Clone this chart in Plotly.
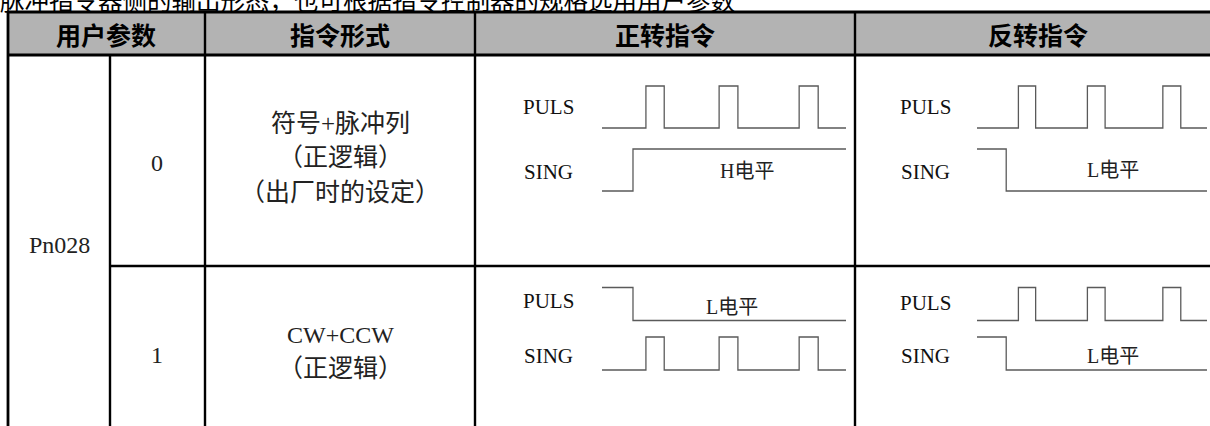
import plotly.graph_objects as go

# ---------------- data ----------------
intro_text = "脉冲指令器侧的输出形态，也可根据指令控制器的规格选用用户参数"
headers = ["用户参数", "指令形式", "正转指令", "反转指令"]
param_name = "Pn028"
param_values = ["0", "1"]
format_lines = [["符号+脉冲列", "（正逻辑）", "（出厂时的设定）"],
                ["CW+CCW", "（正逻辑）"]]
signal_names = ["PULS", "SING"]
level_labels = [["H电平", "L电平"], ["L电平", "L电平"]]

# waveform timing (time units, 0..100)
t_end = 100
pulse_rise = [18.0, 48.0, 80.8]
pulse_fall = [25.5, 55.7, 88.6]
level_switch = 12.7


def pulse_train():
    xs, ys = [0], [0]
    for r, f in zip(pulse_rise, pulse_fall):
        xs += [r, f]
        ys += [1, 0]
    xs.append(t_end)
    ys.append(0)
    return xs, ys


def step(before, after):
    return [0, level_switch, t_end], [before, after, after]


# (row, col) -> (PULS waveform, SING waveform)
waves = {
    (0, 0): (pulse_train(), step(0, 1)),
    (0, 1): (pulse_train(), step(1, 0)),
    (1, 0): (step(1, 0), pulse_train()),
    (1, 1): (pulse_train(), step(1, 0)),
}

# ---------------- layout helpers ----------------
W, H = 1210, 426


def px(x):
    return x / W


def py(y):
    return 1 - y / H


PULS_OFFSET = 1.5
XR = [-3, 101]
YR = [-0.3, 2.8]
cell_x0 = [602, 977]
cell_kx = [2.44, 2.30]
row_y0 = [191, 370]
row_ky = [42, 33]

fig = go.Figure()
WAVE_COLOR = "#5a5a5a"


def note(x, y, text, font, xref="paper", yref="paper", xanchor="center"):
    fig.add_annotation(x=x, y=y, xref=xref, yref=yref, text=text,
                       showarrow=False, xanchor=xanchor, yanchor="middle",
                       font=font)


axis_idx = 0
layout_axes = {}
label_pos = {(0, 0): (59.4, 0.48), (0, 1): (59.1, 0.5),
             (1, 0): (53.3, 1.9), (1, 1): (59.1, 0.42)}
for (r, c), (puls, sing) in waves.items():
    axis_idx += 1
    sfx = "" if axis_idx == 1 else str(axis_idx)
    xa, ya = "x" + sfx, "y" + sfx
    for (xs, ys), off in ((puls, PULS_OFFSET), (sing, 0)):
        fig.add_trace(go.Scatter(
            x=xs, y=[v + off for v in ys], mode="lines",
            line=dict(shape="hv", color=WAVE_COLOR, width=1.3),
            xaxis=xa, yaxis=ya, showlegend=False, hoverinfo="skip"))
    x0, kx = cell_x0[c], cell_kx[c]
    y0, ky = row_y0[r], row_ky[r]
    layout_axes["xaxis" + sfx] = dict(
        range=XR, visible=False, fixedrange=True,
        domain=[px(x0 + XR[0] * kx), px(x0 + XR[1] * kx)],
        anchor=ya)
    layout_axes["yaxis" + sfx] = dict(
        range=YR, visible=False, fixedrange=True,
        domain=[py(y0 - YR[0] * ky), py(y0 - YR[1] * ky)],
        anchor=xa)
    lx, ly = label_pos[(r, c)]
    note(lx, ly, level_labels[r][c],
         dict(family="Liberation Serif, Noto Sans CJK SC", size=20, color="#222"),
         xref=xa, yref=ya)

fig.update_layout(**layout_axes)

# signal names
name_x = [548, 925]
name_y = [[107, 172], [301, 356]]
for r in range(2):
    for c in range(2):
        for i, nm in enumerate(signal_names):
            yy = name_y[r][i] + (2 if (r == 1 and c == 1 and i == 0) else 0)
            note(px(name_x[c]), py(yy), nm,
                 dict(family="Liberation Serif", size=21, color="#111"))

# ---------------- table ----------------
LINE = "black"
shapes = []
shapes.append(dict(type="rect", xref="paper", yref="paper",
                   x0=px(8), x1=1.01, y0=py(55), y1=py(12),
                   fillcolor="#b3b3b3", line=dict(width=0), layer="below"))


def hline(y, xa, xb, w=2.6):
    shapes.append(dict(type="line", xref="paper", yref="paper",
                       x0=px(xa), x1=px(xb), y0=py(y), y1=py(y),
                       line=dict(color=LINE, width=w)))


def vline(x, ya, yb, w=2.6):
    shapes.append(dict(type="line", xref="paper", yref="paper",
                       x0=px(x), x1=px(x), y0=py(ya), y1=py(yb),
                       line=dict(color=LINE, width=w)))


hline(12, 7, 1215, 3)
hline(55, 7, 1215, 3)
hline(266, 110, 1215, 2.6)
vline(8, 11, 430, 2.8)
vline(110, 55, 430, 2.4)
vline(205, 11, 430, 2.4)
vline(475, 11, 430, 2.4)
vline(855, 11, 430, 2.4)
fig.update_layout(shapes=shapes)

# header text
head_cx = [106, 340, 665, 1038]
for t, cx in zip(headers, head_cx):
    note(px(cx), py(34), "<b>" + t + "</b>",
         dict(family="Noto Sans CJK SC", size=25, color="black"))

CJK_FONT = dict(family="Liberation Serif, Noto Sans CJK SC", size=25, color="#222")
LAT_FONT = dict(family="Liberation Serif, Noto Sans CJK SC", size=24, color="#222")

# intro line (cut off at top)
note(px(-2), py(-1), intro_text,
     dict(family="Noto Sans CJK SC", size=24.5, color="black"), xanchor="left")

note(px(59), py(245), param_name, LAT_FONT)
val_y = [163, 355]
for v, yy in zip(param_values, val_y):
    note(px(157), py(yy), v, LAT_FONT)

line_y = [[123, 157, 192], [335, 368]]
for lines, ys in zip(format_lines, line_y):
    for t, yy in zip(lines, ys):
        note(px(340), py(yy), t, CJK_FONT if t != "CW+CCW" else LAT_FONT)

fig.update_layout(width=W, height=H, margin=dict(l=0, r=0, t=0, b=0),
                  paper_bgcolor="white", plot_bgcolor="rgba(0,0,0,0)",
                  showlegend=False)

fig.write_html("out.html", config={"displayModeBar": False},
               post_script="document.body.style.margin='0';document.body.style.overflow='hidden';")
